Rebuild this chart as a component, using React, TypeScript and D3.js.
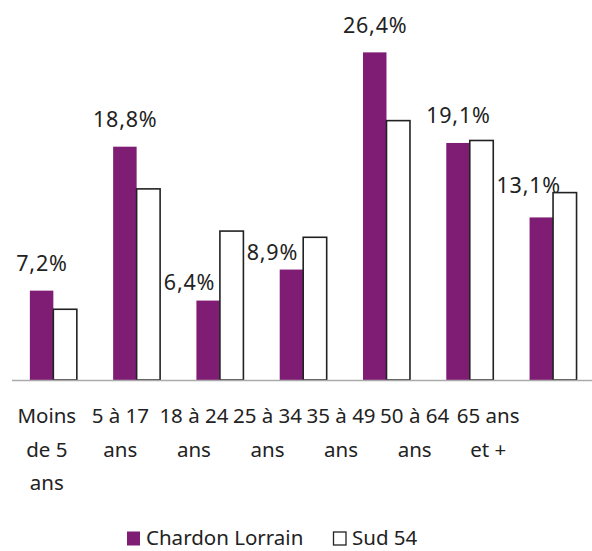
import * as d3 from 'd3'

const categories = ['Moins de 5 ans', '5 à 17 ans', '18 à 24 ans', '25 à 34 ans', '35 à 49 ans', '50 à 64 ans', '65 ans et +']
const tickLines = [['Moins', 'de 5', 'ans'], ['5 à 17', 'ans'], ['18 à 24', 'ans'], ['25 à 34', 'ans'], ['35 à 49', 'ans'], ['50 à 64', 'ans'], ['65 ans', 'et +']]
const chardon = [7.2, 18.8, 6.4, 8.9, 26.4, 19.1, 13.1]
const sud54 = [5.7, 15.4, 12.0, 11.5, 20.9, 19.3, 15.1]
const seriesNames = ['Chardon Lorrain', 'Sud 54']

const W = 592
const H = 551
const PURPLE = '#7F1D74'
const INK = '#222'
const FONT = '"Noto Sans", sans-serif'
const fmt = (v: number) => v.toFixed(1).replace('.', ',') + '%'

// hand-placed labels in the original where the white bar is taller
const labelNudge: Record<number, [number, number]> = { 2: [-19, 9], 3: [-19.5, 10], 6: [-13, -5] }

export default function App() {
  const x0 = d3.scaleBand<string>().domain(categories).range([11.7, 594.7]).paddingInner(0.436).paddingOuter(0.218)
  const x1 = d3.scaleBand<string>().domain(seriesNames).range([0, x0.bandwidth()])
  const xLab = d3.scaleBand<string>().domain(categories).range([10, 525])
  const y = d3.scaleLinear().domain([0, 30]).range([380, 7.7])
  const base = y(0)

  return (
    <svg width={W} height={H} style={{ position: 'absolute', left: 0, top: 0, background: '#fff' }} fontFamily={FONT}>
      {categories.map((c, i) => {
        const gx = x0(c) ?? 0
        const [dx, dy] = labelNudge[i] ?? [0, 0]
        return (
          <g key={c}>
            <rect x={gx} y={y(chardon[i])} width={x1.bandwidth()} height={base - y(chardon[i])} fill={PURPLE} />
            <rect x={gx + (x1(seriesNames[1]) ?? 0)} y={y(sud54[i])} width={x1.bandwidth()} height={base - y(sud54[i])} fill="#fff" stroke={INK} strokeWidth={1.6} />
            <text x={gx + x1.bandwidth() / 2 + dx + 0.4} y={y(chardon[i]) - 19.5 + dy} textAnchor="middle" fontSize={21.5} letterSpacing={0.8} fill={INK}>{fmt(chardon[i])}</text>
          </g>
        )
      })}
      <line x1={12} x2={592} y1={base + 0.5} y2={base + 0.5} stroke="#aaa" strokeWidth={1.5} />
      {categories.map((c, i) => (
        <text key={c} textAnchor="middle" fontSize={20.5} fill={INK}>
          {tickLines[i].map((l, j) => (
            <tspan key={j} x={(xLab(c) ?? 0) + xLab.bandwidth() / 2} y={423 + j * 33.5}>{l}</tspan>
          ))}
        </text>
      ))}
      <g transform="translate(0,-3.5)">
        <rect x={127} y={535} width={13} height={14} fill={PURPLE} />
        <text x={146} y={548.5} fontSize={20.5} fill={INK}>{seriesNames[0]}</text>
        <rect x={333.5} y={535.5} width={12.5} height={13} fill="#fff" stroke={INK} strokeWidth={1.3} />
        <text x={352} y={548.5} fontSize={20.5} fill={INK}>{seriesNames[1]}</text>
      </g>
    </svg>
  )
}
